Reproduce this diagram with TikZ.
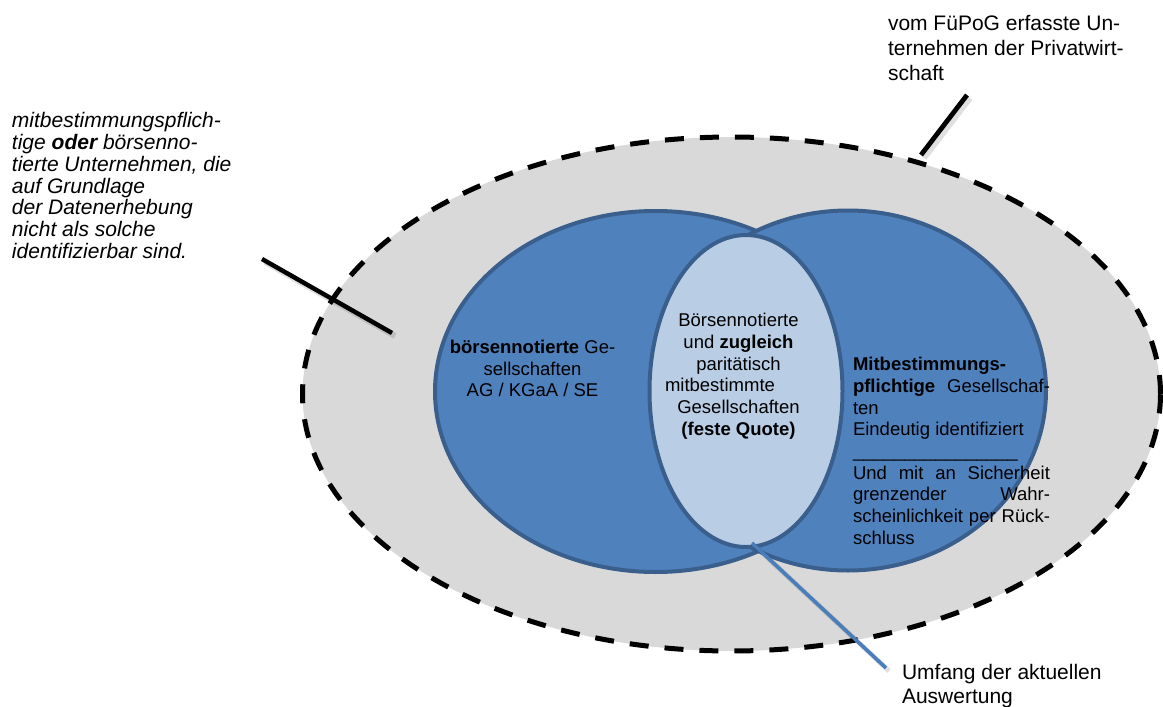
\documentclass[tikz,border=0pt]{standalone}
\usepackage{fontspec}
\setmainfont{Liberation Sans}
\usetikzlibrary{shapes.geometric}
\definecolor{outergrey}{HTML}{D9D9D9}
\definecolor{setblue}{HTML}{4F81BD}
\definecolor{setborder}{HTML}{3A5F8D}
\definecolor{innerblue}{HTML}{B9CDE5}
\definecolor{leaderblue}{HTML}{4A7EBB}
\tikzset{
  setellipse/.style={ellipse, inner sep=0pt, outer sep=0pt, line width=4pt, draw=setborder},
  txt/.style={inner sep=0pt, outer sep=0pt, text=black},
  bigtxt/.style={txt, font=\fontsize{21}{21.7}\selectfont},
  smalltxt/.style={txt, font=\fontsize{18.5}{21.7}\selectfont},
  leader/.style={line width=4.8pt, black},
  leadershadow/.style={line width=6pt, black, opacity=0.12}
}
\begin{document}
\begin{tikzpicture}[x=1pt,y=-1pt]
\useasboundingbox (0,0) rectangle (1163,707);
% outer dashed set
\node[ellipse, inner sep=0pt, minimum width=858pt, minimum height=514pt, fill=outergrey, draw=black, line width=5pt, dash pattern=on 19pt off 16pt] (outer) at (731.5,394) {};
% two blue sets
\node[setellipse, fill=setblue, minimum width=441pt, minimum height=361pt] (left) at (655.5,391.5) {};
\node[setellipse, fill=setblue, minimum width=396pt, minimum height=360pt] (right) at (848,390.5) {};
% intersection
\node[setellipse, fill=innerblue, minimum width=193pt, minimum height=312pt] (inner) at (746,391) {};

% texts
\node[bigtxt, anchor=north west, align=left, font=\fontsize{21}{21.7}\selectfont\itshape] (ltext) at (12,112.7)
 {mitbestimmungspflich-\\tige \textbf{oder} börsenno-\\tierte Unternehmen, die\\auf Grundlage\\der Datenerhebung\\nicht als solche\\identifizierbar sind.};
\node[bigtxt, anchor=north west, align=left, font=\fontsize{21}{25}\selectfont] (ttext) at (888,15.7)
 {vom FüPoG erfasste Un-\\ternehmen der Privatwirt-\\schaft};
\node[bigtxt, anchor=north west, align=left, font=\fontsize{21}{24}\selectfont] (btext) at (902,664.7)
 {Umfang der aktuellen\\Auswertung};
\node[smalltxt, anchor=north, align=center, font=\fontsize{18.5}{21.5}\selectfont] (lsettext) at (532.5,340.5)
 {\textbf{börsennotierte} Ge-\\sellschaften\\AG / KGaA / SE};
\node[smalltxt, anchor=north, align=center] (ctext) at (738.5,313.2)
 {Börsennotierte\\und \textbf{zugleich}\\paritätisch\\\makebox[147pt][l]{mitbestimmte}\\Gesellschaften\\\textbf{(feste Quote)}};
\node[smalltxt, anchor=north west, align=left] (rtext) at (853,357.2)
 {\makebox[197pt][l]{\textbf{Mitbestimmungs-}}\\
  \makebox[197pt][s]{\textbf{pflichtige} Gesellschaf-}\\
  ten\\
  Eindeutig identifiziert\\
  \textunderscore\textunderscore\textunderscore\textunderscore\textunderscore\textunderscore\textunderscore\textunderscore\textunderscore\textunderscore\textunderscore\textunderscore\textunderscore\textunderscore\textunderscore\textunderscore\\
  \makebox[197pt][s]{Und mit an Sicherheit}\\
  \makebox[197pt][s]{grenzender Wahr-}\\
  \makebox[197pt][s]{scheinlichkeit per Rück-}\\
  schluss};

% leader lines
\coordinate (la) at (262,259);
\coordinate (lb) at (392,333);
\coordinate (ta) at (967,95);
\coordinate (tb) at (921,155);
\coordinate (ba) at (752,543);
\coordinate (bb) at (886,668);
\draw[leadershadow] ([shift={(3,3)}]la) -- ([shift={(3,3)}]lb);
\draw[leadershadow] ([shift={(3,3)}]ta) -- ([shift={(3,3)}]tb);
\draw[leadershadow, line width=5pt] ([shift={(3,3)}]ba) -- ([shift={(3,3)}]bb);
\draw[leader, line width=4.5pt] (la) -- (lb);
\draw[leader] (ta) -- (tb);
\draw[line width=3.6pt, leaderblue] (ba) -- (bb);
\end{tikzpicture}
\end{document}
